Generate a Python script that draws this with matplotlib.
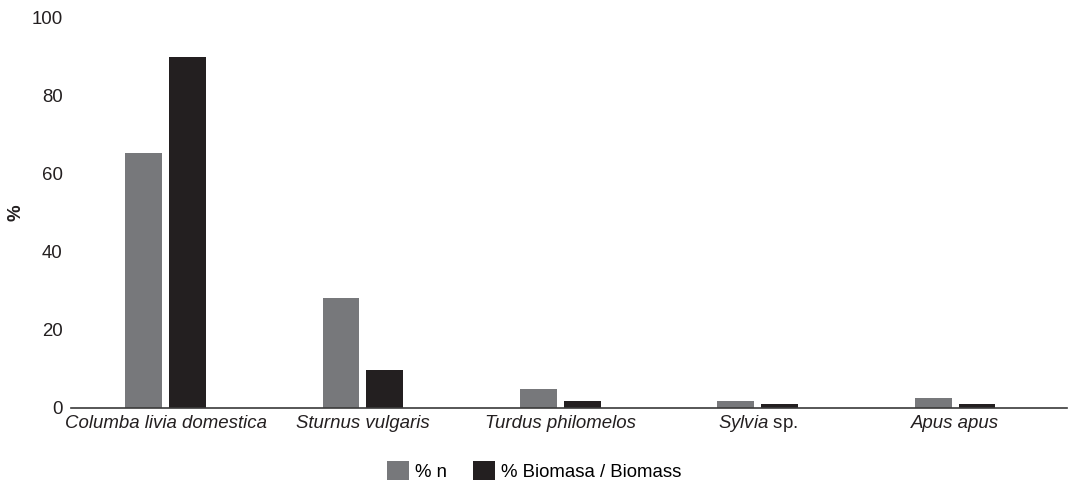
import matplotlib
matplotlib.use("Agg")
import matplotlib.pyplot as plt
import numpy as np
from matplotlib.patches import Patch

# species and values
species = ["Columba livia domestica", "Sturnus vulgaris", "Turdus philomelos",
           "$\\it{Sylvia}$ sp.", "Apus apus"]
pct_n = [65.2, 28.1, 4.9, 1.8, 2.6]
pct_biomass = [89.8, 9.7, 1.8, 1.0, 0.9]
yticks = [0, 20, 40, 60, 80, 100]

gray = "#77787b"
black = "#231f20"

plt.rcParams["font.family"] = ["Liberation Sans", "DejaVu Sans"]
plt.rcParams["mathtext.fontset"] = "custom"
plt.rcParams["mathtext.it"] = "Liberation Sans:italic"
plt.rcParams["mathtext.rm"] = "Liberation Sans"

fig = plt.figure(figsize=(10.68, 4.82), dpi=100)
ax = fig.add_axes([71 / 1068, 74 / 482, 996 / 1068, 391 / 482])

x = np.arange(len(species))
w = 0.187
off = 0.111
ax.bar(x - off, pct_n, width=w, color=gray, label="% n")
ax.bar(x + off, pct_biomass, width=w, color=black, label="% Biomasa / Biomass")

ax.set_xlim(-0.479, 4.567)
ax.set_ylim(0, 100)
ax.set_yticks(yticks)
ax.set_yticklabels([str(t) for t in yticks], fontsize=13.4, color="#231f20")
ax.tick_params(axis="y", length=0, pad=6)
ax.set_xticks(x)
ax.set_xticklabels(species, fontsize=13.4, color="#231f20")
for lbl in ax.get_xticklabels():
    lbl.set_va("baseline")
    if "Sylvia" not in lbl.get_text():
        lbl.set_fontstyle("italic")
ax.tick_params(axis="x", length=0, pad=14.4)

for s in ["top", "right", "left"]:
    ax.spines[s].set_visible(False)
ax.spines["bottom"].set_color("#3a3a3a")
ax.spines["bottom"].set_linewidth(1.2)

ax.set_ylabel("%", fontsize=13.4, fontweight="bold", color="#231f20",
              va="center")
ax.yaxis.set_label_coords(-0.055, 0.5)

handles = [Patch(facecolor=gray), Patch(facecolor=black)]
fig.legend(handles, ["% n", "% Biomasa / Biomass"], loc="lower center",
           bbox_to_anchor=(0.5, -0.033), ncol=2, frameon=False, fontsize=13.4,
           handlelength=1.2, handleheight=1.2, handletextpad=0.3,
           columnspacing=1.4)

fig.savefig("out.png", dpi=100)
